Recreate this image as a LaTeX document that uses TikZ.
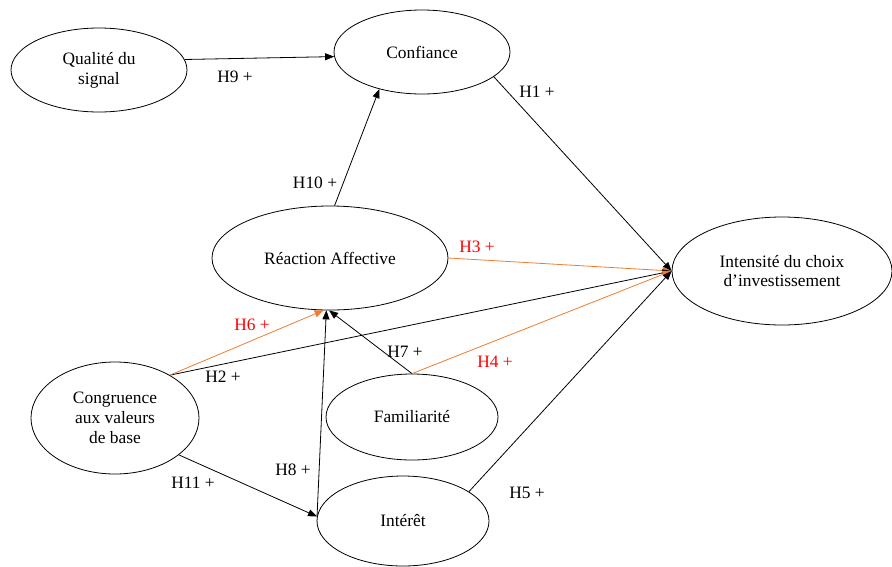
\documentclass[tikz,border=0pt]{standalone}
\usepackage{fontspec}
\setmainfont{Liberation Serif}
\usetikzlibrary{shapes.geometric,arrows.meta}
\definecolor{hypo}{RGB}{237,125,49}
\definecolor{hred}{RGB}{255,0,0}
\begin{document}
\begin{tikzpicture}[x=1pt,y=-1pt,
  construct/.style={draw, ellipse, line width=0.8pt, inner sep=0pt, align=center,
                    font=\fontsize{17.4}{19.8}\selectfont},
  link/.style={draw=black, line width=0.8pt, -{Triangle[length=9pt,width=7pt]}},
  hot/.style={link, draw=hypo},
  hlab/.style={font=\fontsize{17.4}{19.8}\selectfont, inner sep=0pt},
  hotlab/.style={hlab, text=hred}]
\useasboundingbox (0,0) rectangle (892,566);

% constructs of the model
\node[construct, minimum width=176pt, minimum height=84pt] (qual) at (99,70)
  {Qualité du\\signal};
\node[construct, minimum width=176pt, minimum height=84pt] (conf) at (422,52) {Confiance};
\node[construct, minimum width=236pt, minimum height=104pt] (react) at (330,258) {Réaction Affective};
\node[construct, minimum width=220pt, minimum height=108pt] (int) at (782,271)
  {Intensité du choix\\d’investissement};
\node[construct, minimum width=168pt, minimum height=112pt] (cong) at (115,418)
  {Congruence\\aux valeurs\\de base};
\node[construct, minimum width=172pt, minimum height=86pt] (fam) at (412,417) {Familiarité};
\node[construct, minimum width=172pt, minimum height=90pt] (inter) at (403,521) {Intérêt};

% hypothesised effects
\draw[link] (qual.7) -- (conf.183);
\draw[link] (react.85) -- (conf.221);
\draw[link] (conf.341) -- (int.west);
\draw[hot] (react.0) -- (int.west);
\draw[link] (cong.38) -- (int.west);
\draw[hot] (cong.38) -- (react.263);
\draw[link] (fam.north) -- (react.269);
\draw[hot] (fam.north) -- (int.west);
\draw[link] (inter.177) -- (react.266);
\draw[link] (cong.330) -- (inter.177);
\draw[link] (inter.24) -- (int.west);

% hypothesis labels
\node[hlab] (l9) at (235,77) {H9 +};
\node[hlab] (l10) at (315,183) {H10 +};
\node[hlab] (l1) at (537,92) {H1 +};
\node[hotlab] (l3) at (477,247) {H3 +};
\node[hotlab] (l6) at (252,325) {H6 +};
\node[hlab] (l2) at (223,377) {H2 +};
\node[hlab] (l7) at (405,352) {H7 +};
\node[hotlab] (l4) at (495,362) {H4 +};
\node[hlab] (l8) at (293,470) {H8 +};
\node[hlab] (l11) at (193,483) {H11 +};
\node[hlab] (l5) at (527,493) {H5 +};
\end{tikzpicture}
\end{document}
